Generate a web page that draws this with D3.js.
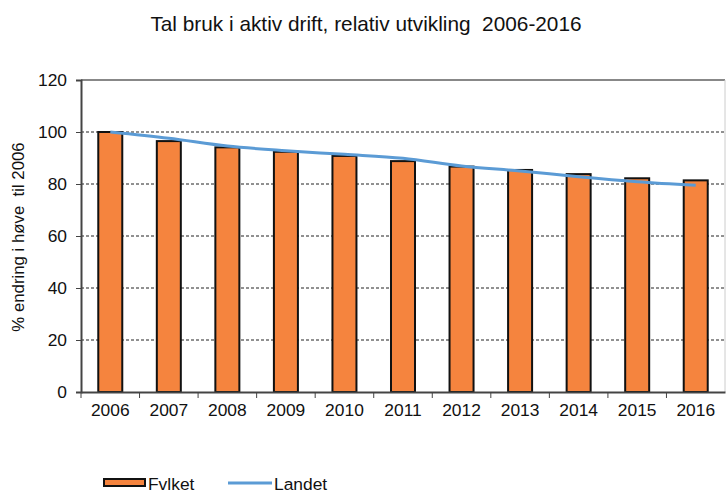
<!DOCTYPE html>
<head><style>body { margin: 0; background: #fff; } svg { display: block; } text { white-space: pre; }</style></head>
<body>
    <div class="container"></div>
    <script src="https://d3js.org/d3.v7.min.js"></script>
    <script>
        var years = ['2006', '2007', '2008', '2009', '2010', '2011', '2012', '2013', '2014', '2015', '2016'];
        var fylket = [100, 96.5, 94.1, 92.4, 90.8, 88.8, 86.7, 85.4, 83.8, 82.2, 81.4];
        var landet = [100, 97.6, 94.6, 92.8, 91.4, 89.9, 86.9, 85.0, 82.8, 80.9, 79.5];
        var yticks = [0, 20, 40, 60, 80, 100, 120];

        var font = 'Liberation Sans, Arial, sans-serif';
        var svg = d3.select('.container')
                    .append('svg')
                    .attr('width', 726)
                    .attr('height', 491);

        var plotLeft = 81, plotRight = 725, plotTop = 80, plotBottom = 392;

        var x = d3.scaleBand().domain(years).range([plotLeft, plotRight]).paddingInner(0.59).paddingOuter(0.295);
        var xb = d3.scaleBand().domain(years).range([plotLeft, plotRight]);
        var y = d3.scaleLinear().domain([0, 120]).range([plotBottom, plotTop]);

        // title
        svg.append('text')
           .attr('x', 366).attr('y', 31)
           .attr('text-anchor', 'middle')
           .attr('fill', '#111')
           .style('font-family', font).style('font-size', '20.8px')
           .text('Tal bruk i aktiv drift, relativ utvikling  2006-2016');

        // gridlines
        svg.append('g').selectAll('line')
           .data(yticks.filter(function(d) { return d > 0 && d < 120; }))
           .enter().append('line')
           .attr('x1', plotLeft).attr('x2', plotRight)
           .attr('y1', function(d) { return y(d); }).attr('y2', function(d) { return y(d); })
           .attr('stroke', '#222').attr('stroke-width', 1).attr('stroke-dasharray', '3,2');

        // frame top / right
        svg.append('line').attr('x1', plotLeft).attr('x2', plotRight).attr('y1', y(120)).attr('y2', y(120))
           .attr('stroke', '#888').attr('stroke-width', 2);
        svg.append('line').attr('x1', plotRight).attr('x2', plotRight).attr('y1', y(120)).attr('y2', y(0))
           .attr('stroke', '#ccc').attr('stroke-width', 1);

        // bars
        svg.append('g').selectAll('rect')
           .data(fylket)
           .enter().append('rect')
           .attr('x', function(d, i) { return x(years[i]); })
           .attr('width', x.bandwidth())
           .attr('y', function(d) { return y(d); })
           .attr('height', function(d) { return y(0) - y(d); })
           .attr('fill', '#f5843e')
           .attr('stroke', '#111').attr('stroke-width', 2);

        // line
        var line = d3.line()
                     .x(function(d, i) { return xb(years[i]) + xb.bandwidth() / 2; })
                     .y(function(d) { return y(d); })
                     .curve(d3.curveMonotoneX);
        svg.append('path')
           .attr('d', line(landet))
           .attr('fill', 'none')
           .attr('stroke', '#5b9bd5').attr('stroke-width', 3);

        // y axis
        var yaxis = svg.append('g')
                       .attr('transform', 'translate(' + plotLeft + ',0)')
                       .call(d3.axisLeft(y).tickValues(yticks).tickSize(5).tickPadding(9));
        yaxis.select('.domain').attr('stroke', '#444').attr('stroke-width', 2);
        yaxis.selectAll('.tick line').attr('stroke', '#444');
        yaxis.selectAll('text').style('font-family', font).style('font-size', '17.4px').attr('fill', '#111');

        // x axis
        var xaxis = svg.append('g')
                       .attr('transform', 'translate(0,' + plotBottom + ')')
                       .call(d3.axisBottom(xb).tickSize(0).tickPadding(12));
        xaxis.select('.domain').attr('stroke', '#444').attr('stroke-width', 2);
        xaxis.selectAll('text').style('font-family', font).style('font-size', '17.4px').attr('fill', '#111');
        svg.append('g').selectAll('line')
           .data(years.slice(1))
           .enter().append('line')
           .attr('x1', function(d) { return xb(d); }).attr('x2', function(d) { return xb(d); })
           .attr('y1', plotBottom).attr('y2', plotBottom + 6)
           .attr('stroke', '#444');
        svg.append('line').attr('x1', plotLeft).attr('x2', plotLeft).attr('y1', plotBottom).attr('y2', plotBottom + 6).attr('stroke', '#444');

        // y title
        svg.append('text')
           .attr('transform', 'translate(24,237) rotate(-90)')
           .attr('text-anchor', 'middle')
           .attr('fill', '#111')
           .style('font-family', font).style('font-size', '16.8px')
           .text('% endring i høve  til 2006');

        // legend
        var lg = svg.append('g');
        lg.append('rect').attr('x', 104).attr('y', 479).attr('width', 41).attr('height', 7)
          .attr('fill', '#f5843e').attr('stroke', '#111').attr('stroke-width', 2);
        lg.append('text').attr('x', 148).attr('y', 490)
          .attr('fill', '#111')
          .style('font-family', font).style('font-size', '17.4px').text('Fvlket');
        lg.append('line').attr('x1', 228).attr('x2', 272).attr('y1', 483).attr('y2', 483)
          .attr('stroke', '#5b9bd5').attr('stroke-width', 3);
        lg.append('text').attr('x', 274).attr('y', 490)
          .attr('fill', '#111')
          .style('font-family', font).style('font-size', '17.4px').text('Landet');
    </script>
</body>
